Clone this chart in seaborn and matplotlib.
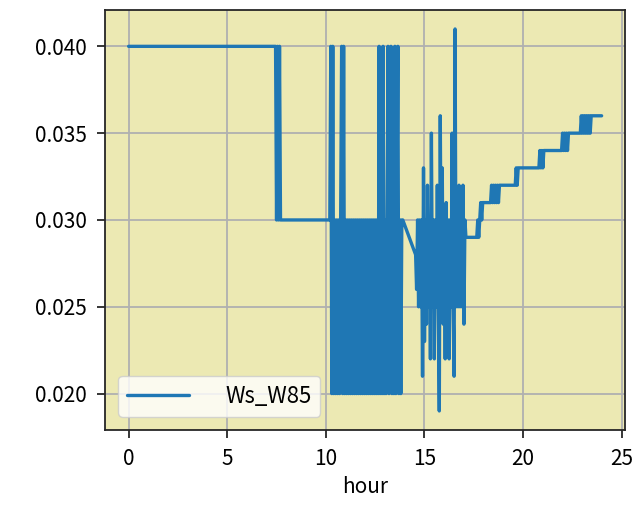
import pandas as pd
import matplotlib
matplotlib.use('Agg')
import matplotlib.pyplot as plt
import seaborn as sns

# Ws_W85 vs hour
hour_start = [0.00, 7.45, 7.50, 7.55, 7.60, 7.65, 7.70, 7.75, 10.20]
ws_start = [0.040, 0.040, 0.030, 0.040, 0.030, 0.040, 0.030, 0.030, 0.030]

hour_burst1 = [
    10.25, 10.30, 10.35, 10.40, 10.45, 10.50, 10.55, 10.60, 10.65, 10.70,
    10.75, 10.80, 10.85, 10.90, 10.95, 11.00, 11.05, 11.10, 11.15, 11.20,
    11.25, 11.30, 11.35, 11.40, 11.45, 11.50, 11.55, 11.60, 11.65, 11.70,
    11.75, 11.80, 11.85, 11.90, 11.95, 12.00, 12.05, 12.10, 12.15, 12.20,
    12.25, 12.30, 12.35, 12.40, 12.45, 12.50, 12.55, 12.60, 12.65, 12.70,
    12.75, 12.80, 12.85, 12.90, 12.95, 13.00, 13.05, 13.10, 13.15, 13.20,
    13.25, 13.30, 13.35, 13.40, 13.45, 13.50, 13.55, 13.60, 13.65, 13.70,
    13.75, 13.80, 13.85, 13.90,
]
ws_burst1 = [
    0.040, 0.020, 0.040, 0.020, 0.030, 0.020, 0.030, 0.020, 0.030, 0.020,
    0.030, 0.040, 0.020, 0.040, 0.020, 0.030, 0.020, 0.030, 0.020, 0.030,
    0.020, 0.030, 0.020, 0.030, 0.020, 0.030, 0.020, 0.030, 0.020, 0.030,
    0.020, 0.030, 0.020, 0.030, 0.020, 0.030, 0.020, 0.030, 0.020, 0.030,
    0.020, 0.030, 0.020, 0.030, 0.020, 0.030, 0.020, 0.030, 0.020, 0.040,
    0.020, 0.030, 0.020, 0.040, 0.020, 0.030, 0.020, 0.030, 0.040, 0.020,
    0.030, 0.040, 0.020, 0.030, 0.020, 0.040, 0.020, 0.030, 0.040, 0.020,
    0.030, 0.020, 0.030, 0.030,
]

hour_burst2 = [
    14.55, 14.60, 14.65, 14.70, 14.75, 14.80, 14.85, 14.90, 14.95, 15.00,
    15.05, 15.10, 15.15, 15.20, 15.25, 15.30, 15.35, 15.40, 15.45, 15.50,
    15.55, 15.60, 15.65, 15.70, 15.75, 15.80, 15.85, 15.90, 15.95, 16.00,
    16.05, 16.10, 16.15, 16.20, 16.25, 16.30, 16.35, 16.40, 16.45, 16.50,
    16.55, 16.60, 16.65, 16.70, 16.75, 16.80, 16.85, 16.90, 16.95, 17.00,
    17.05, 17.10,
]
ws_burst2 = [
    0.028, 0.026, 0.030, 0.025, 0.030, 0.025, 0.030, 0.021, 0.033, 0.023,
    0.030, 0.024, 0.032, 0.025, 0.030, 0.022, 0.035, 0.025, 0.030, 0.022,
    0.030, 0.025, 0.032, 0.025, 0.019, 0.036, 0.025, 0.033, 0.024, 0.030,
    0.022, 0.031, 0.025, 0.030, 0.022, 0.030, 0.025, 0.035, 0.025, 0.021,
    0.041, 0.025, 0.030, 0.025, 0.032, 0.025, 0.030, 0.025, 0.032, 0.024,
    0.030, 0.029,
]

hour_end = [
    17.65, 17.70, 17.75, 17.80, 17.85, 17.90, 17.95, 18.35, 18.40, 18.45,
    18.50, 18.55, 18.60, 18.65, 18.70, 18.75, 18.80, 19.60, 19.65, 19.70,
    19.75, 20.80, 20.85, 20.90, 20.95, 21.00, 21.05, 21.95, 22.00, 22.05,
    22.10, 22.15, 22.20, 22.25, 22.30, 22.90, 22.95, 23.00, 23.05, 23.10,
    23.15, 23.20, 23.25, 23.30, 23.35, 23.40, 23.45, 23.98,
]
ws_end = [
    0.029, 0.030, 0.029, 0.030, 0.031, 0.030, 0.031, 0.031, 0.032, 0.031,
    0.032, 0.031, 0.032, 0.031, 0.032, 0.031, 0.032, 0.032, 0.033, 0.032,
    0.033, 0.033, 0.034, 0.033, 0.034, 0.033, 0.034, 0.034, 0.035, 0.034,
    0.035, 0.034, 0.035, 0.034, 0.035, 0.035, 0.036, 0.035, 0.036, 0.035,
    0.036, 0.035, 0.036, 0.035, 0.036, 0.035, 0.036, 0.036,
]

df = pd.DataFrame({
    'hour': hour_start + hour_burst1 + hour_burst2 + hour_end,
    'Ws_W85': ws_start + ws_burst1 + ws_burst2 + ws_end,
})

sns.set_style('ticks')
plt.rcParams['font.family'] = ['Noto Sans CJK JP', 'DejaVu Sans']
plt.rcParams['axes.linewidth'] = 1.3
plt.rcParams['text.color'] = 'black'
plt.rcParams['axes.labelcolor'] = 'black'

fig, ax = plt.subplots(figsize=(6.4, 5.2), dpi=100)
fig.subplots_adjust(left=0.164, right=0.977, top=0.981, bottom=0.173)

sns.lineplot(data=df, x='hour', y='Ws_W85', estimator=None, color='#1f77b4',
             linewidth=2.4, label='Ws_W85', ax=ax)

ax.set_facecolor('#ece9b3')
ax.grid(True, color='#b0b0b0', linewidth=1.3)
ax.set_axisbelow(True)
ax.set_xticks([0, 5, 10, 15, 20, 25])
ax.set_yticks([0.020, 0.025, 0.030, 0.035, 0.040])
ax.set_yticklabels(['0.020', '0.025', '0.030', '0.035', '0.040'])
ax.tick_params(labelsize=15, length=6, width=1.1, pad=7, colors='black')
ax.set_xlabel('hour', fontsize=15, labelpad=4)
ax.set_ylabel('')
ax.legend(loc='lower left', fontsize=16, handlelength=2.8, handletextpad=1.6,
          borderaxespad=0.6)

plt.savefig('out.png', dpi=100, facecolor='white')
